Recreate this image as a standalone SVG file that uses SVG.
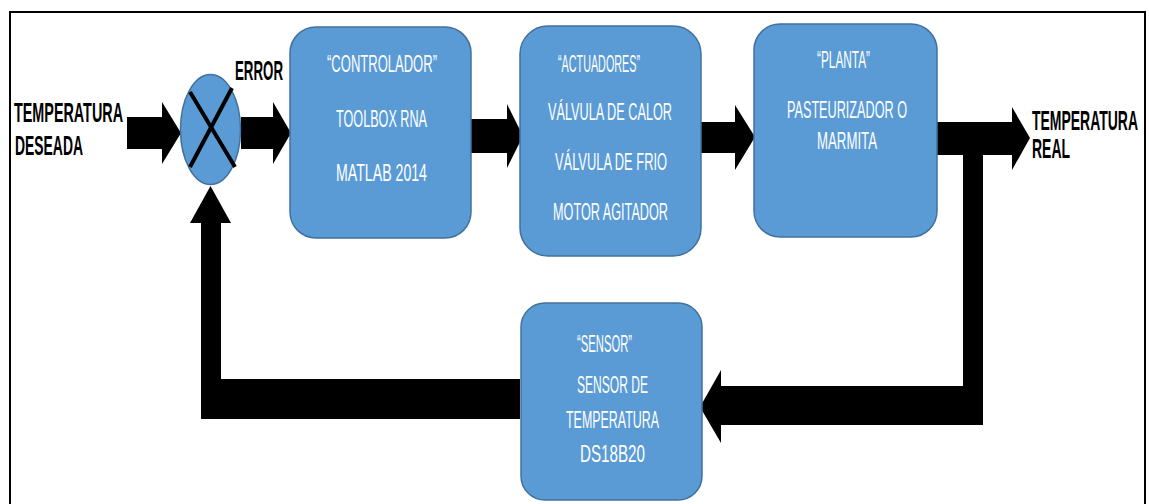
<svg xmlns="http://www.w3.org/2000/svg" width="1149" height="504" viewBox="0 0 1149 504">
<style>
.box{fill:#5B9BD5;stroke:#41719C;stroke-width:1.5}
.wt{fill:#ffffff;font-family:"Liberation Sans",Arial,sans-serif;font-size:24px;text-anchor:start}
.bt{fill:#000000;font-family:"Liberation Sans",Arial,sans-serif;font-weight:bold;font-size:28px}
.arr{fill:#000000}
</style>
<rect x="10" y="12" width="1135" height="500" fill="#ffffff" stroke="#000000" stroke-width="2"/>
<g id="connectors">
<polygon class="arr" points="127,117 162,117 162,102 181,133 162,164 162,149 127,149"/>
<polygon class="arr" points="241,117 273,117 273,102 291,133 273,164 273,149 241,149"/>
<polygon class="arr" points="471,119 507,119 507,104 523,136 507,168 507,153 471,153"/>
<polygon class="arr" points="701,122 735,122 735,105 755,137 735,170 735,153 701,153"/>
<polygon class="arr" points="937,122 1012,122 1012,107 1030,138 1012,170 1012,155 937,155"/>
<polygon class="arr" points="963,150 983,150 983,425 721,425 721,443 700,407 721,370 721,386 963,386"/>
<polygon class="arr" points="520,379 520,419 201,419 201,223 190,223 210.5,186 231,223 221,223 221,379"/>
</g>
<g id="sum">
<ellipse cx="210.5" cy="129.5" rx="30" ry="55" class="box"/>
<line x1="190" y1="92" x2="235" y2="167" stroke="#000" stroke-width="4"/>
<line x1="232" y1="88" x2="190" y2="167" stroke="#000" stroke-width="4"/>
</g>
<g id="label-input">
<text class="bt" x="14" y="122" textLength="109" lengthAdjust="spacingAndGlyphs">TEMPERATURA</text>
<text class="bt" x="15" y="155" textLength="68" lengthAdjust="spacingAndGlyphs">DESEADA</text>
</g>
<g id="label-error">
<text class="bt" x="235" y="80" textLength="48" lengthAdjust="spacingAndGlyphs">ERROR</text>
</g>
<g id="controlador">
<rect class="box" x="290" y="27" width="181" height="211" rx="26"/>
<text class="wt" x="327" y="72" textLength="110" lengthAdjust="spacingAndGlyphs">“CONTROLADOR”</text>
<text class="wt" x="336" y="127" textLength="91" lengthAdjust="spacingAndGlyphs">TOOLBOX RNA</text>
<text class="wt" x="336" y="181" textLength="91" lengthAdjust="spacingAndGlyphs">MATLAB 2014</text>
</g>
<g id="actuadores">
<rect class="box" x="520" y="26" width="181" height="230" rx="28"/>
<text class="wt" x="558" y="72" textLength="82" lengthAdjust="spacingAndGlyphs">“ACTUADORES”</text>
<text class="wt" x="548" y="120" textLength="124" lengthAdjust="spacingAndGlyphs">VÁLVULA DE CALOR</text>
<text class="wt" x="555" y="170" textLength="112" lengthAdjust="spacingAndGlyphs">VÁLVULA DE FRIO</text>
<text class="wt" x="553" y="220" textLength="115" lengthAdjust="spacingAndGlyphs">MOTOR AGITADOR</text>
</g>
<g id="planta">
<rect class="box" x="754" y="24" width="183" height="213" rx="26"/>
<text class="wt" x="817" y="68" textLength="53" lengthAdjust="spacingAndGlyphs">“PLANTA”</text>
<text class="wt" x="787" y="118" textLength="120" lengthAdjust="spacingAndGlyphs">PASTEURIZADOR O</text>
<text class="wt" x="817" y="149" textLength="60" lengthAdjust="spacingAndGlyphs">MARMITA</text>
</g>
<g id="label-output">
<text class="bt" x="1138" y="130" text-anchor="end" textLength="106" lengthAdjust="spacingAndGlyphs">TEMPERATURA</text>
<text class="bt" x="1032" y="158" textLength="38" lengthAdjust="spacingAndGlyphs">REAL</text>
</g>
<g id="sensor">
<rect class="box" x="521" y="303" width="181" height="197" rx="24"/>
<text class="wt" x="577" y="352" textLength="55" lengthAdjust="spacingAndGlyphs">“SENSOR”</text>
<text class="wt" x="577" y="393" textLength="71" lengthAdjust="spacingAndGlyphs">SENSOR DE</text>
<text class="wt" x="566" y="428" textLength="93" lengthAdjust="spacingAndGlyphs">TEMPERATURA</text>
<text class="wt" x="580" y="462" textLength="65" lengthAdjust="spacingAndGlyphs">DS18B20</text>
</g>
</svg>
